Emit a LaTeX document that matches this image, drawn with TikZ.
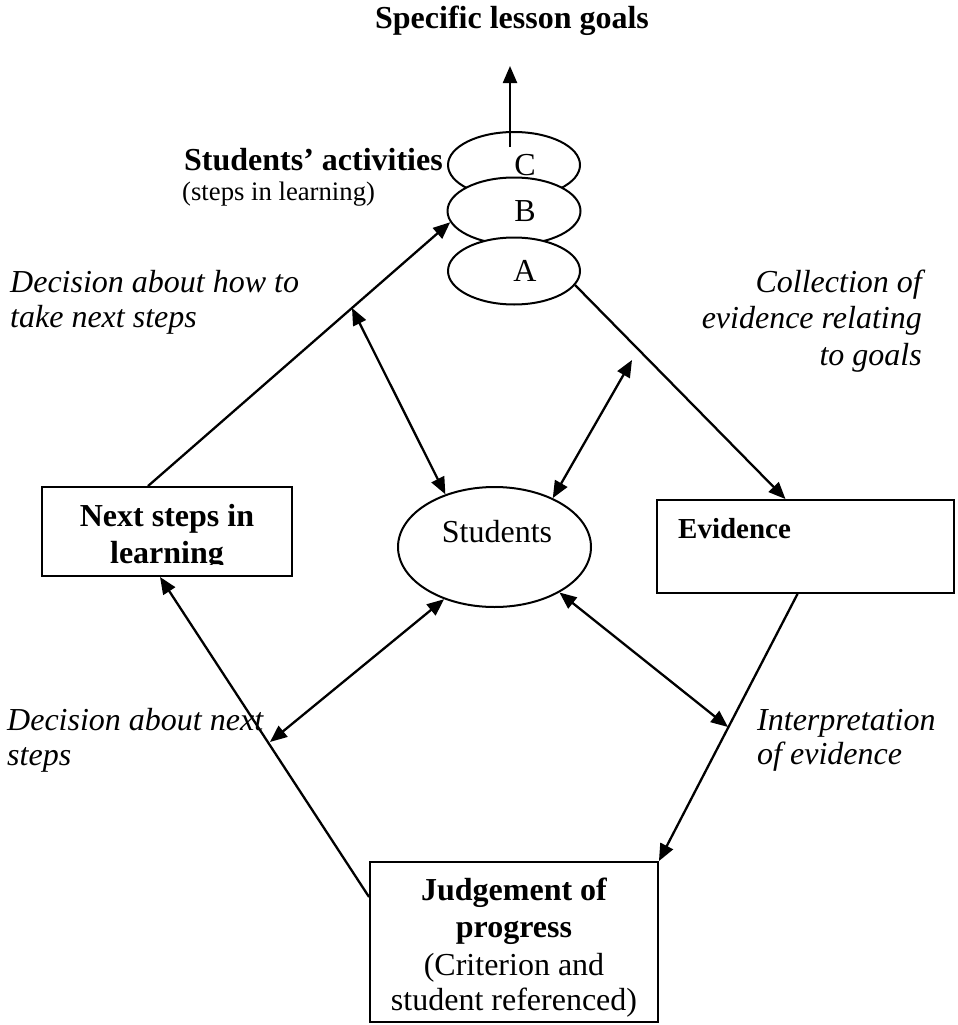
\documentclass[tikz,border=0pt]{standalone}
\usepackage{fontspec}
\setmainfont{Liberation Serif}
\usetikzlibrary{arrows.meta,shapes.geometric,calc}
\begin{document}
\begin{tikzpicture}[x=1pt,y=-1pt,
  tipend/.style={-{Triangle[length=17pt,width=14pt]}},
  tipboth/.style={{Triangle[length=17pt,width=14pt]}-{Triangle[length=17pt,width=14pt]}},
  conn/.style={line width=2.3pt},
  boxnode/.style={draw, line width=1.9pt, rectangle, inner sep=0pt, fill=white},
  ovalnode/.style={draw, line width=2pt, ellipse, inner sep=0pt, fill=white, font=\fontsize{32}{37}\selectfont},
  rmtext/.style={inner sep=0pt, font=\fontsize{32}{37}\selectfont},
  bftext/.style={inner sep=0pt, font=\fontsize{32}{37}\selectfont\bfseries},
  ittext/.style={inner sep=0pt, font=\fontsize{32}{37}\selectfont\itshape},
  smtext/.style={inner sep=0pt, font=\fontsize{26.7}{31}\selectfont}
]
\path[use as bounding box, fill=white] (0,0) rectangle (958,1025);

% stacked activity ellipses
\node[ovalnode, minimum width=132pt, minimum height=66pt] (C) at (514,165) {\hspace*{22pt}C};
\node[ovalnode, minimum width=133pt, minimum height=67pt] (B) at (514,211) {\hspace*{22pt}B};
\node[ovalnode, minimum width=132pt, minimum height=67pt] (A) at (514,271) {\hspace*{22pt}A};

% central ellipse
\node[ovalnode, minimum width=193pt, minimum height=120pt] (S) at (494.5,547) {};
\node[rmtext, anchor=base] (slab) at (497,542) {Students};

% boxes
\node[boxnode, minimum width=250pt, minimum height=89pt] (next) at (167,531.5) {};
\node[boxnode, minimum width=297pt, minimum height=93pt] (evid) at (805.5,546.5) {};
\node[boxnode, minimum width=288pt, minimum height=160pt] (judg) at (514,942) {};

% box texts
\node[bftext, anchor=base] (n1) at (167,526) {Next steps in};
\begin{scope}
  \clip (42,487) rectangle (292,564.5);
  \node[bftext, anchor=base] (n2) at (167,563) {learning};
\end{scope}
\node[inner sep=0pt, font=\fontsize{29}{34}\selectfont\bfseries, anchor=base west] (ev) at (678,538) {Evidence};
\node[bftext, anchor=base] (j1) at (514,900) {Judgement of};
\node[bftext, anchor=base] (j2) at (514,937) {progress};
\node[rmtext, anchor=base] (j3) at (514,975) {(Criterion and};
\node[rmtext, anchor=base] (j4) at (514,1010) {student referenced)};

% titles and labels
\node[bftext, anchor=base] (goals) at (512,29) {Specific lesson goals};
\node[bftext, anchor=base east] (act1) at (443,170) {Students’ activities};
\node[smtext, anchor=base west] (act2) at (182,200) {(steps in learning)};
\node[ittext, anchor=base west] (d1) at (10,292) {Decision about how to};
\node[ittext, anchor=base west] (d2) at (10,327) {take next steps};
\node[ittext, anchor=base east] (c1) at (922,292) {Collection of};
\node[ittext, anchor=base east] (c2) at (922,328) {evidence relating};
\node[ittext, anchor=base east] (c3) at (922,365) {to goals};
\node[ittext, anchor=base west] (e1) at (7,730) {Decision about next};
\node[ittext, anchor=base west] (e2) at (7,765) {steps};
\node[ittext, anchor=base west] (i1) at (757,730) {Interpretation};
\node[ittext, anchor=base west] (i2) at (757,764) {of evidence};

% free ends
\coordinate (goalpt) at (510,66);
\coordinate (p1) at (352,308);
\coordinate (p2) at (632,360);
\coordinate (p3) at (728,727);
\coordinate (p4) at (270,742);

% connectors
\draw[conn, tipend] ([shift={(-4,-18)}]C.center) -- (goalpt);
\draw[conn, tipend] ([xshift=-19pt]next.north) -- (B.190);
\draw[conn, tipend] (A.-13) -- ([xshift=-20pt]evid.north);
\draw[conn, tipend] ([xshift=-8pt]evid.south) -- (judg.north east);
\draw[conn, tipend] ([yshift=45pt]judg.west) -- ([xshift=-7pt]next.south);
\draw[conn, tipboth] (p1) -- (S.133);
\draw[conn, tipboth] (p2) -- (S.40);
\draw[conn, tipboth] (S.-35) -- (p3);
\draw[conn, tipboth] (S.226) -- (p4);
\end{tikzpicture}
\end{document}
